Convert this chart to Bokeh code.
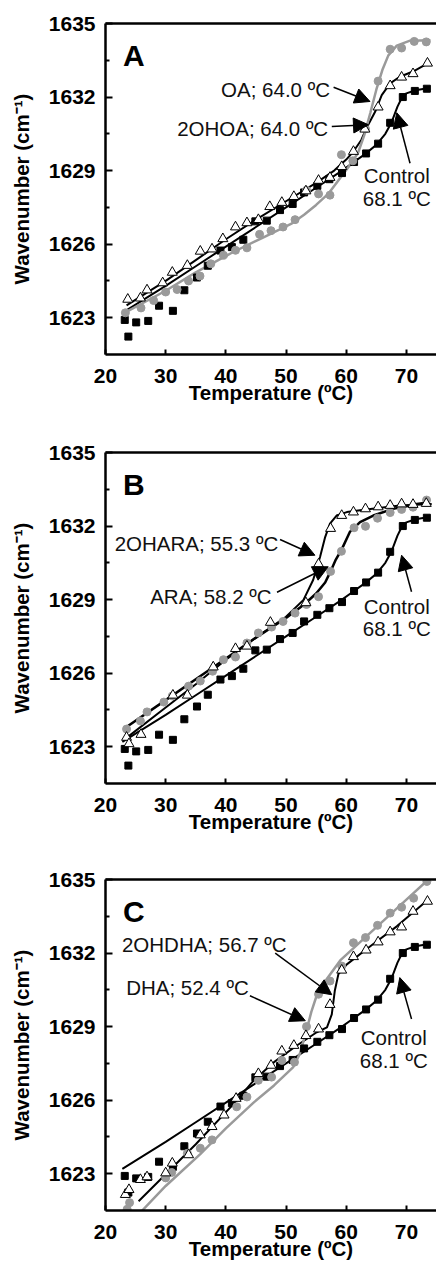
from bokeh.plotting import figure
from bokeh.models import Range1d, FixedTicker, LinearAxis, Arrow, NormalHead
from bokeh.layouts import column
from bokeh.embed import file_html
from bokeh.resources import INLINE
from bokeh.core.properties import value

# ---------------- data ----------------
x_ticks = [20, 30, 40, 50, 60, 70]
y_ticks = [1623, 1626, 1629, 1632, 1635]
y_minor = [1624.5, 1627.5, 1630.5, 1633.5]

# control (same in all panels)
ctrl_x = [23.2, 23.8, 25.1, 27.1, 28.9, 31.2, 33.1, 35.2, 37.0, 39.1, 41.0, 42.9, 44.9, 46.8,
          49.0, 51.1, 53.0, 55.2, 57.2, 59.3, 61.3, 63.3, 65.3, 67.3, 69.4, 71.4, 73.4]
ctrl_y = [1622.91, 1622.23, 1622.81, 1622.87, 1623.49, 1623.28, 1624.12, 1624.64, 1625.12, 1625.74,
          1625.88, 1626.18, 1626.93, 1626.96, 1627.39, 1627.64, 1628.11, 1628.38, 1628.65, 1628.9,
          1629.35, 1629.7, 1630.1, 1630.95, 1632.0, 1632.25, 1632.34]
ctrl_fit_x = [22.8, 30, 35, 40, 45, 50, 55, 59, 61, 63, 65, 66.5, 67.5, 68.5, 69.3, 70, 71.5, 73.5]
ctrl_fit_y = [1623.2, 1624.3, 1625.1, 1625.9, 1626.7, 1627.5, 1628.3, 1628.95, 1629.3, 1629.65,
              1630.05, 1630.5, 1630.95, 1631.6, 1632.0, 1632.15, 1632.28, 1632.36]

# panel A
oa_x = [23.3, 25.9, 28.0, 30.0, 31.9, 33.8, 35.7, 37.5, 39.6, 41.6, 43.5, 45.6, 47.5, 49.5, 51.5,
        53.4, 55.4, 57.3, 59.2, 61.1, 63.2, 65.3, 67.3, 69.2, 71.3, 73.3]
oa_y = [1623.2, 1623.4, 1623.7, 1624.05, 1624.15, 1624.5, 1624.7, 1625.2, 1625.55, 1625.75, 1625.85,
        1626.4, 1626.55, 1626.7, 1627.0, 1628.2, 1628.05, 1628.0, 1629.65, 1629.4, 1630.7, 1632.65,
        1633.95, 1634.0, 1634.27, 1634.25]
oa_fit_x = [23.0, 30, 35, 41, 46, 51, 53, 55, 57, 59, 61, 62, 63, 64, 65, 66, 67, 68.4, 70.6, 74.0]
oa_fit_y = [1623.18, 1624.1, 1624.85, 1625.65, 1626.25, 1626.85, 1627.2, 1627.6, 1628.05, 1628.7,
            1629.35, 1629.75, 1630.45, 1631.35, 1632.3, 1633.1, 1633.7, 1634.1, 1634.3, 1634.32]
ohoa_x = [23.7, 25.8, 26.9, 29.5, 31.1, 33.6, 35.75, 37.7, 39.5, 41.6, 43.5, 45.4, 47.3, 49.3, 51.3,
          53.3, 55.4, 57.3, 59.25, 61.2, 63.1, 65.3, 67.3, 69.2, 71.1, 73.5]
ohoa_y = [1623.75, 1623.8, 1624.13, 1624.42, 1624.85, 1625.13, 1625.71, 1625.8, 1626.22, 1626.7,
          1626.87, 1627.0, 1627.53, 1627.7, 1627.94, 1628.17, 1628.6, 1628.72, 1629.16, 1629.78,
          1630.69, 1631.59, 1632.46, 1632.81, 1632.95, 1633.38]
ohoa_fit_x = [23.5, 30, 35, 40, 45, 50, 55, 58, 60, 61.2, 62.5, 63.5, 64.8, 65.9, 67.3, 68.9, 71.1, 73.6]
ohoa_fit_y = [1623.5, 1624.5, 1625.35, 1626.2, 1627.0, 1627.75, 1628.5, 1629.0, 1629.45, 1629.78,
              1630.25, 1630.8, 1631.4, 1632.08, 1632.56, 1632.83, 1633.04, 1633.38]

# panel B
ara_x = [23.5, 25.8, 26.9, 29.7, 31.1, 33.8, 35.75, 37.8, 39.6, 41.6, 43.5, 45.4, 47.6, 49.5, 51.5,
         53.4, 55.4, 57.4, 59.2, 61.3, 63.2, 65.2, 67.3, 69.2, 71.1, 73.35]
ara_y = [1623.72, 1624.05, 1624.42, 1624.82, 1625.07, 1625.47, 1625.68, 1626.08, 1626.55, 1626.66,
         1627.23, 1627.64, 1627.88, 1628.11, 1628.45, 1628.8, 1629.12, 1630.15, 1630.97, 1631.93,
         1631.99, 1632.32, 1632.55, 1632.68, 1632.77, 1633.06]
ara_fit_x = [23.0, 30, 35, 40, 45, 50, 53, 55, 56.5, 57.3, 58.2, 59.25, 60.6, 62.3, 64.5, 67.8, 71.7, 73.9]
ara_fit_y = [1623.72, 1624.9, 1625.75, 1626.6, 1627.45, 1628.25, 1628.8, 1629.25, 1629.7, 1630.1,
             1630.6, 1631.05, 1631.76, 1632.16, 1632.43, 1632.7, 1632.9, 1632.97]
ohara_x = [23.5, 23.9, 25.9, 31.2, 33.6, 37.9, 41.6, 43.5, 47.4, 53.3, 55.4, 57.4, 59.25, 61.2,
           63.2, 65.3, 67.3, 69.2, 71.1, 73.3]
ohara_y = [1623.38, 1623.12, 1623.5, 1625.1, 1625.1, 1626.25, 1627.0, 1627.1, 1628.07, 1628.87,
           1630.45, 1631.9, 1632.43, 1632.57, 1632.7, 1632.78, 1632.84, 1632.9, 1632.88, 1632.92]
ohara_fit_x = [23.6, 30, 35, 40, 45, 50, 52.9, 54.5, 55.65, 56.5, 57.3, 58.4, 60.1, 64, 68.9, 74.2]
ohara_fit_y = [1623.38, 1624.6, 1625.55, 1626.55, 1627.45, 1628.3, 1628.99, 1629.8, 1630.74,
               1631.55, 1632.1, 1632.43, 1632.57, 1632.7, 1632.84, 1632.9]

# panel C
dha_x = [23.6, 24.0, 30.0, 31.0, 33.6, 35.75, 37.7, 41.8, 43.5, 45.4, 47.6, 49.3, 51.4, 53.4, 55.4,
         57.3, 59.25, 61.2, 63.2, 65.2, 67.3, 69.2, 71.2, 73.4]
dha_y = [1621.55, 1621.82, 1622.83, 1623.05, 1623.83, 1624.04, 1624.38, 1625.73, 1626.13, 1626.81,
         1626.94, 1627.62, 1627.55, 1629.0, 1630.32, 1630.86, 1631.47, 1632.42, 1632.63, 1633.13,
         1633.63, 1633.87, 1634.24, 1634.92]
dha_fit_x = [26.1, 30, 35.75, 40, 44.6, 48, 51.2, 52.3, 53.3, 54.2, 55.2, 56.8, 59.0, 62.8, 66.2, 70, 73.6]
dha_fit_y = [1621.5, 1622.5, 1623.8, 1624.85, 1625.9, 1626.6, 1627.35, 1627.9, 1628.75, 1629.6,
             1630.35, 1630.95, 1631.7, 1632.56, 1633.32, 1634.18, 1634.99]
ohdha_x = [23.3, 23.9, 25.8, 26.9, 30.0, 31.1, 33.8, 35.75, 37.7, 39.7, 41.7, 45.4, 47.5, 49.3, 51.3,
           53.3, 55.4, 57.3, 59.25, 61.2, 63.3, 65.3, 67.3, 69.2, 71.1, 73.5]
ohdha_y = [1622.15, 1622.35, 1622.76, 1622.87, 1623.03, 1623.43, 1623.77, 1624.58, 1624.92, 1625.39,
           1626.07, 1627.08, 1627.42, 1628.0, 1628.23, 1628.63, 1628.9, 1629.9, 1631.3, 1631.85,
           1632.12, 1632.45, 1632.86, 1633.06, 1633.7, 1634.11]
ohdha_fit_x = [25.5, 30, 35, 41.3, 44.6, 48, 51.8, 55.1, 56.8, 57.6, 58.1, 58.7, 60.1, 64.0, 68.4, 73.3]
ohdha_fit_y = [1621.88, 1622.98, 1624.2, 1625.85, 1626.8, 1627.55, 1628.23, 1628.77, 1628.97, 1629.5,
               1630.46, 1631.14, 1631.54, 1632.28, 1633.09, 1634.11]

# ---------------- style ----------------
GRAY = "#9a9a9a"
FONT = "Liberation Sans"


def make_panel(letter, h, top, bottom, gray, tri, gray_line_color, notes, ctrl_note):
    p = figure(width=436, height=h, x_range=Range1d(20, 75), y_range=Range1d(1621.5, 1635),
               output_backend="svg", toolbar_location=None,
               min_border_left=105, min_border_right=0, min_border_top=top, min_border_bottom=bottom,
               outline_line_color=None, background_fill_color="white", border_fill_color="white")
    p.xgrid.visible = False
    p.ygrid.visible = False
    p.xaxis.ticker = FixedTicker(ticks=x_ticks)
    p.yaxis.ticker = FixedTicker(ticks=y_ticks, minor_ticks=y_minor)
    for ax in p.axis:
        ax.axis_line_width = 2.5
        ax.axis_line_color = "black"
        ax.major_tick_line_width = 2
        ax.minor_tick_line_width = 2
        ax.major_tick_out = 0
        ax.minor_tick_out = 0
        ax.minor_tick_in = 4
        ax.major_label_text_font = FONT
        ax.major_label_text_font_style = "bold"
        ax.major_label_text_font_size = "21px"
        ax.major_label_text_color = "black"
        ax.axis_label_text_font = FONT
        ax.axis_label_text_font_style = "bold"
        ax.axis_label_text_font_size = "20.5px"
        ax.axis_label_text_color = "black"
    p.xaxis.major_tick_in = 5
    p.yaxis.major_tick_in = 7
    p.xaxis.major_label_standoff = 14
    p.xaxis.axis_label_standoff = -5
    p.yaxis.major_label_standoff = 10
    p.yaxis.axis_label_standoff = 13
    p.xaxis.axis_label = "Temperature (ºC)"
    p.yaxis.axis_label = "Wavenumber (cm⁻¹)"

    topax = LinearAxis(ticker=FixedTicker(ticks=[]), axis_line_width=2.5,
                       major_tick_line_color=None, minor_tick_line_color=None)
    p.add_layout(topax, "above")

    gx, gy, gfx, gfy = gray
    tx, ty, tfx, tfy = tri
    p.line(ctrl_fit_x, ctrl_fit_y, line_color="black", line_width=2)
    p.line(tfx, tfy, line_color="black", line_width=2)
    p.line(gfx, gfy, line_color=gray_line_color, line_width=2.5)
    p.scatter(ctrl_x, ctrl_y, marker="square", size=7, fill_color="black", line_color="black")
    p.scatter(gx, gy, marker="circle", size=8, fill_color=GRAY, line_color=GRAY)
    p.scatter(tx, ty, marker="triangle", size=10, fill_color="white", line_color="black", line_width=1)

    p.text(x=[22.9], y=[1633.7], text=[letter], text_font=value(FONT), text_font_style="bold",
           text_font_size="30px", text_align="left", text_baseline="alphabetic", text_color="black")

    for (txt, tx_, ty_, x0, y0, x1, y1) in notes:
        p.text(x=[tx_], y=[ty_], text=[txt], text_font=value(FONT), text_font_size="20.5px",
               text_align="right", text_baseline="middle", text_color="#111111")
        p.add_layout(Arrow(end=NormalHead(size=15, fill_color="black", line_color="black", line_width=1),
                           x_start=x0, y_start=y0, x_end=x1, y_end=y1,
                           line_color="black", line_width=1.5))
    cx, cy1, cy2, x0, y0, x1, y1 = ctrl_note
    p.text(x=[cx, cx], y=[cy1, cy2], text=["Control", "68.1 ºC"], text_font=value(FONT),
           text_font_size="20.5px", text_align="center", text_baseline="middle", text_color="#111111")
    p.add_layout(Arrow(end=NormalHead(size=15, fill_color="black", line_color="black", line_width=1),
                       x_start=x0, y_start=y0, x_end=x1, y_end=y1,
                       line_color="black", line_width=1.5))
    return p


pA = make_panel("A", 435, 23, 81, (oa_x, oa_y, oa_fit_x, oa_fit_y),
                (ohoa_x, ohoa_y, ohoa_fit_x, ohoa_fit_y), GRAY,
                [("OA; 64.0 ºC", 57.3, 1632.29, 57.9, 1632.4, 63.95, 1631.82),
                 ("2OHOA; 64.0 ºC", 57.0, 1630.73, 57.6, 1630.8, 63.7, 1630.87)],
                (68.4, 1628.82, 1627.87, 70.6, 1629.3, 68.4, 1631.36))
pB = make_panel("B", 428, 17, 80, (ara_x, ara_y, ara_fit_x, ara_fit_y),
                (ohara_x, ohara_y, ohara_fit_x, ohara_fit_y), "black",
                [("2OHARA; 55.3 ºC", 48.7, 1631.29, 49.0, 1631.45, 54.8, 1630.81),
                 ("ARA; 58.2 ºC", 47.6, 1629.12, 48.5, 1629.3, 57.0, 1630.34)],
                (68.4, 1628.72, 1627.84, 70.85, 1629.32, 69.2, 1630.81))
pC = make_panel("C", 406, 16, 59, (dha_x, dha_y, dha_fit_x, dha_fit_y),
                (ohdha_x, ohdha_y, ohdha_fit_x, ohdha_fit_y), GRAY,
                [("2OHDHA; 56.7 ºC", 50.1, 1632.35, 48.2, 1632.0, 57.6, 1630.3),
                 ("DHA; 52.4 ºC", 43.8, 1630.59, 44.0, 1630.26, 53.2, 1629.24)],
                (67.9, 1628.57, 1627.62, 70.85, 1629.31, 68.9, 1631.0))

layout = column(pA, pB, pC, spacing=0)
open("out.html", "w").write(file_html(layout, INLINE))
